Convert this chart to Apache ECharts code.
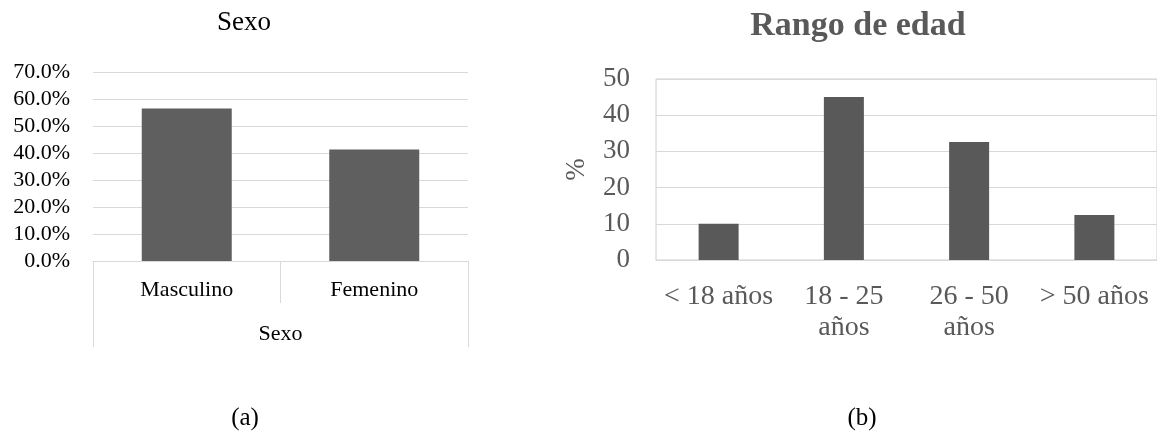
<!DOCTYPE html>
<html>
<head>
<meta charset="utf-8">
<script src="https://cdn.jsdelivr.net/npm/echarts@6.0.0/dist/echarts.min.js"></script>
<style>
  html, body { margin: 0; padding: 0; background: #fff; }
  #chart { width: 1157px; height: 446px; }
</style>
</head>
<body>
<div id="chart"></div>
<script>
// (a) Sexo
const sexoCategories = ['Masculino', 'Femenino'];
const sexoValues = [56.5, 41.3];
const sexoTicks = [0, 10, 20, 30, 40, 50, 60, 70];

// (b) Rango de edad
const edadCategories = ['< 18 años', '18 - 25\naños', '26 - 50\naños', '> 50 años'];
const edadValues = [10, 45, 32.6, 12.4];
const edadTicks = [0, 10, 20, 30, 40, 50];

const serif = '"Liberation Serif", "Times New Roman", serif';
const gray = '#595959';
const lineGray = '#d9d9d9';

const chart = echarts.init(document.getElementById('chart'));

const option = {
  animation: false,
  textStyle: { fontFamily: serif },
  grid: [
    { left: 93, right: 689, top: 72, bottom: 185 },
    { left: 656, right: -4, top: 79, bottom: 186, show: true, borderColor: '#cccccc', borderWidth: 1 }
  ],
  xAxis: [
    {
      gridIndex: 0,
      type: 'category',
      data: sexoCategories,
      axisLine: { show: true, lineStyle: { color: lineGray, width: 1 } },
      axisTick: { show: true, length: 42, lineStyle: { color: lineGray } },
      axisLabel: { color: '#000', fontSize: 22, fontFamily: serif, margin: 17, lineHeight: 24 }
    },
    {
      gridIndex: 0,
      type: 'category',
      position: 'bottom',
      data: ['Sexo'],
      axisLine: { show: false },
      axisTick: { show: true, length: 86, lineStyle: { color: lineGray } },
      axisLabel: { color: '#000', fontSize: 22, fontFamily: serif, margin: 61, lineHeight: 24 }
    },
    {
      gridIndex: 1,
      type: 'category',
      data: edadCategories,
      axisLine: { show: true, lineStyle: { color: lineGray, width: 1 } },
      axisTick: { show: false },
      axisLabel: { color: gray, fontSize: 28, fontFamily: serif, margin: 21, lineHeight: 31, interval: 0 }
    }
  ],
  yAxis: [
    {
      gridIndex: 0,
      type: 'value',
      min: sexoTicks[0],
      max: sexoTicks[sexoTicks.length - 1],
      interval: 10,
      axisLine: { show: false },
      axisTick: { show: false },
      splitLine: { lineStyle: { color: lineGray, width: 1 } },
      axisLabel: {
        color: '#000', fontSize: 22, fontFamily: serif, margin: 23,
        formatter: v => v.toFixed(1) + '%'
      }
    },
    {
      gridIndex: 1,
      type: 'value',
      min: edadTicks[0],
      max: edadTicks[edadTicks.length - 1],
      interval: 10,
      name: '%',
      nameLocation: 'middle',
      nameRotate: 90,
      nameGap: 66,
      nameTextStyle: { color: gray, fontSize: 27, fontFamily: serif },
      axisLine: { show: false },
      axisTick: { show: false },
      splitLine: { lineStyle: { color: lineGray, width: 1 } },
      axisLabel: { color: gray, fontSize: 27, fontFamily: serif, margin: 26 }
    }
  ],
  series: [
    {
      type: 'bar',
      xAxisIndex: 0,
      yAxisIndex: 0,
      data: sexoValues,
      barWidth: 90,
      itemStyle: { color: '#5f5f5f' }
    },
    {
      type: 'bar',
      xAxisIndex: 2,
      yAxisIndex: 1,
      data: edadValues,
      barWidth: 40,
      itemStyle: { color: '#595959' }
    }
  ],
  graphic: [
    { type: 'text', x: 244, y: 23, style: { text: 'Sexo', font: '27px ' + serif, fill: '#000', align: 'center', verticalAlign: 'middle' } },
    { type: 'text', x: 858, y: 26, style: { text: 'Rango de edad', font: 'bold 34px ' + serif, fill: gray, align: 'center', verticalAlign: 'middle' } },
    { type: 'text', x: 245, y: 418, style: { text: '(a)', font: '25px ' + serif, fill: '#000', align: 'center', verticalAlign: 'middle' } },
    { type: 'text', x: 862, y: 418, style: { text: '(b)', font: '25px ' + serif, fill: '#000', align: 'center', verticalAlign: 'middle' } }
  ]
};

chart.setOption(option);
</script>
</body>
</html>
